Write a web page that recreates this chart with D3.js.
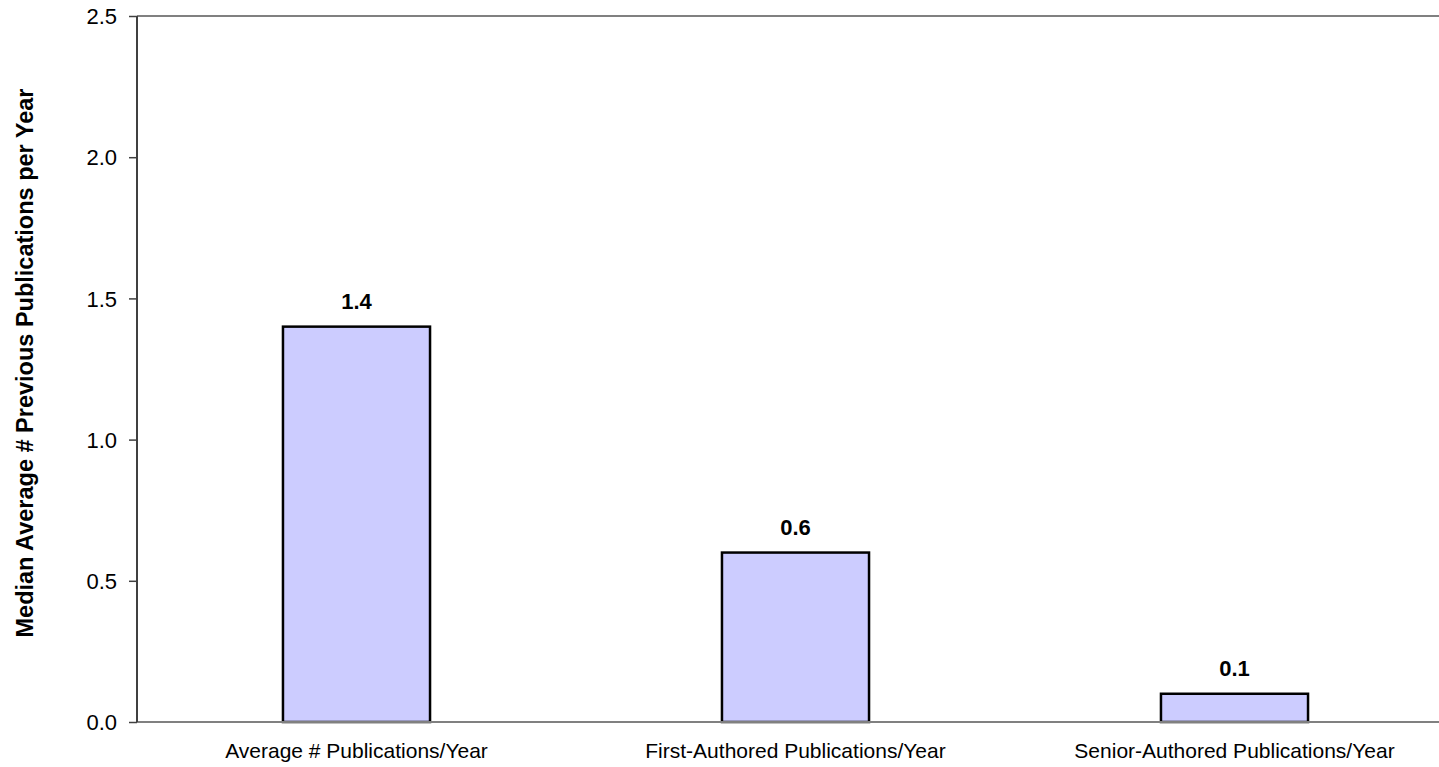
<!DOCTYPE html>
<html>
<head>
<meta charset="utf-8">
<script src="https://cdn.jsdelivr.net/npm/d3@7"></script>
<style>
  html, body { margin: 0; padding: 0; background: #fff; overflow: hidden; }
  svg { display: block; font-family: Arial, "Liberation Sans", sans-serif; }
</style>
</head>
<body>
<svg id="chart" width="1439" height="767"></svg>
<script>
// Chart data
const categories = [
  "Average # Publications/Year",
  "First-Authored Publications/Year",
  "Senior-Authored Publications/Year"
];
const values = [1.4, 0.6, 0.1];
const valueLabels = ["1.4", "0.6", "0.1"];
const yTicks = [0, 0.5, 1.0, 1.5, 2.0, 2.5];
const yTitle = "Median Average # Previous Publications per Year";

const svg = d3.select("#chart");
const plot = { left: 137, right: 1454, top: 16, bottom: 722 };

const x = d3.scaleBand()
  .domain(categories)
  .range([plot.left, plot.right])
  .paddingInner(0.665)
  .paddingOuter(0.3325);

const y = d3.scaleLinear()
  .domain([0, 2.5])
  .range([plot.bottom, plot.top]);

// Frame: top line in grey
svg.append("line")
  .attr("x1", plot.left).attr("x2", plot.right)
  .attr("y1", plot.top).attr("y2", plot.top)
  .attr("stroke", "#808080").attr("stroke-width", 2);

// Bars
svg.append("g").selectAll("rect")
  .data(values)
  .join("rect")
  .attr("x", (d, i) => x(categories[i]))
  .attr("y", d => y(d))
  .attr("width", x.bandwidth())
  .attr("height", d => y(0) - y(d))
  .attr("fill", "#ccccff")
  .attr("stroke", "#000")
  .attr("stroke-width", 2.5);

// Bottom axis line
svg.append("line")
  .attr("x1", plot.left).attr("x2", plot.right)
  .attr("y1", plot.bottom).attr("y2", plot.bottom)
  .attr("stroke", "#808080").attr("stroke-width", 2);

// Y axis
const yAxis = svg.append("g")
  .attr("transform", `translate(${plot.left},0)`)
  .call(d3.axisLeft(y).tickValues(yTicks).tickFormat(d3.format(".1f")).tickSize(8).tickPadding(12));
yAxis.select(".domain").attr("stroke", "#404040").attr("stroke-width", 2)
  .attr("d", `M0,${plot.top}V${plot.bottom}`);
yAxis.selectAll(".tick line").attr("stroke", "#404040").attr("stroke-width", 1.5);
yAxis.selectAll(".tick text")
  .attr("font-size", 22)
  .attr("font-family", "Arial, 'Liberation Sans', sans-serif")
  .attr("fill", "#000")
  .attr("dy", "0.35em");

// Category labels
svg.append("g").selectAll("text")
  .data(categories)
  .join("text")
  .attr("x", d => x(d) + x.bandwidth() / 2)
  .attr("y", 758)
  .attr("text-anchor", "middle")
  .attr("font-size", 21)
  .attr("fill", "#000")
  .text(d => d);

// Value labels
svg.append("g").selectAll("text")
  .data(values)
  .join("text")
  .attr("x", (d, i) => x(categories[i]) + x.bandwidth() / 2)
  .attr("y", d => y(d) - 18)
  .attr("text-anchor", "middle")
  .attr("font-size", 22)
  .attr("font-weight", "bold")
  .attr("fill", "#000")
  .text((d, i) => valueLabels[i]);

// Y axis title
svg.append("text")
  .attr("transform", "translate(33,363) rotate(-90)")
  .attr("text-anchor", "middle")
  .attr("font-size", 23.5)
  .attr("font-weight", "bold")
  .attr("fill", "#000")
  .text(yTitle);
</script>
</body>
</html>
